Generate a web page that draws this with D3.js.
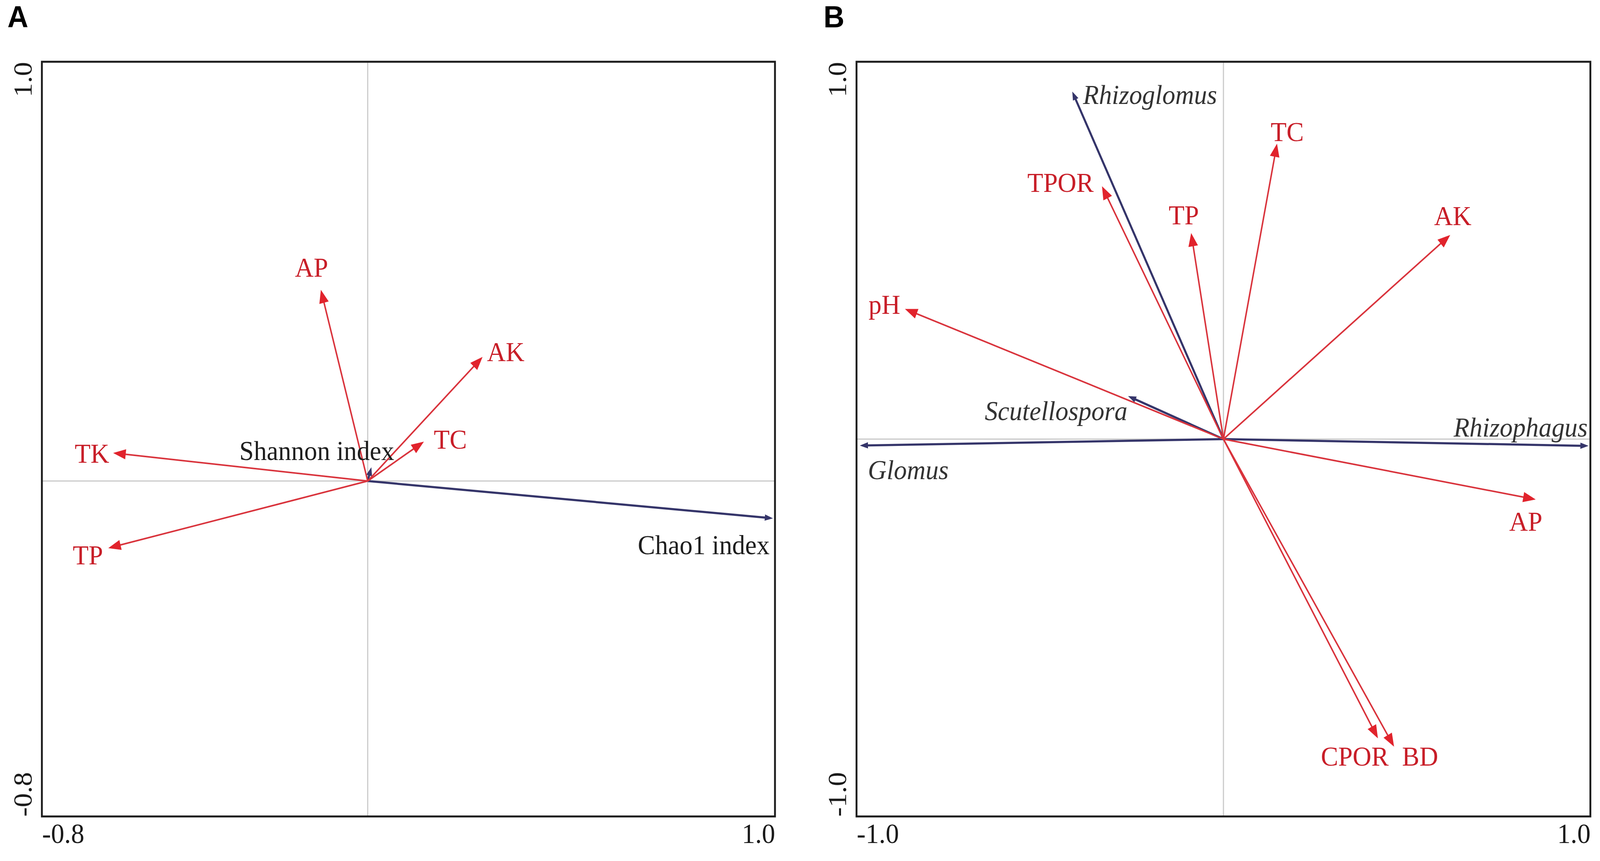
<!DOCTYPE html>
<html>
<head>
<meta charset="utf-8">
<script src="https://cdn.jsdelivr.net/npm/d3@7"></script>
<style>
  html, body { margin: 0; padding: 0; background: #fff; overflow: hidden; }
  svg { display: block; width: 100vw; height: 100vh; }
</style>
</head>
<body>
<svg id="chart" viewBox="0 0 4317 2203" preserveAspectRatio="none"></svg>
<script>
// ---- panel A : environmental variables (red) and diversity indices (navy)
var aEnvNames = ['AP', 'AK', 'TC', 'TK', 'TP'];
var aEnvX = [-0.115, 0.282, 0.138, -0.625, -0.637];
var aEnvY = [0.456, 0.296, 0.094, 0.067, -0.160];
var aEnvLabX = [-0.138, 0.339, 0.203, -0.677, -0.687];
var aEnvLabY = [0.510, 0.309, 0.100, 0.066, -0.176];

var aRespNames = ['Shannon index', 'Chao1 index'];
var aRespX = [0.009, 0.995];
var aRespY = [0.033, -0.089];
var aRespLabX = [-0.125, 0.825];
var aRespLabY = [0.073, -0.152];

var aTicksX = [-0.8, 1.0];
var aTicksY = [-0.8, 1.0];

// ---- panel B : soil properties (red) and AMF genera (navy, italic)
var bEnvNames = ['TC', 'TPOR', 'TP', 'AK', 'pH', 'AP', 'CPOR', 'BD'];
var bEnvX = [0.146, -0.331, -0.088, 0.618, -0.868, 0.851, 0.421, 0.465];
var bEnvY = [0.783, 0.670, 0.546, 0.541, 0.345, -0.160, -0.793, -0.815];
var bEnvLabX = [0.174, -0.444, -0.108, 0.625, -0.924, 0.824, 0.358, 0.536];
var bEnvLabY = [0.815, 0.680, 0.594, 0.592, 0.357, -0.218, -0.840, -0.840];

var bRespNames = ['Rhizoglomus', 'Scutellospora', 'Rhizophagus', 'Glomus'];
var bRespX = [-0.412, -0.260, 0.995, -0.991];
var bRespY = [0.921, 0.114, -0.018, -0.017];
var bRespLabX = [-0.200, -0.456, 0.810, -0.859];
var bRespLabY = [0.914, 0.076, 0.032, -0.081];

var bTicksX = [-1.0, 1.0];
var bTicksY = [-1.0, 1.0];

var RED_LINE = '#d9333c', RED_HEAD = '#e1232c', RED_TEXT = '#c81e28';
var NAVY = '#35356a';
var SERIF = '"Liberation Serif", "Times New Roman", serif';

var svg = d3.select('#chart');

function zip(names, xs, ys, lx, ly) {
	return names.map(function(n, i) {
		return {name: n, x: xs[i], y: ys[i], lx: lx[i], ly: ly[i]};
	});
}

function drawPanel(opt) {
	var g = svg.append('g').attr('transform', 'translate(' + opt.left + ',' + opt.top + ')');
	var w = opt.width, h = opt.height;

	var x = d3.scaleLinear().domain(opt.xDomain).range([0, w]);
	var y = d3.scaleLinear().domain(opt.yDomain).range([h, 0]);

	// zero lines
	g.append('line')
		.attr('x1', 0).attr('x2', w)
		.attr('y1', y(0)).attr('y2', y(0))
		.attr('stroke', '#c9c9c9').attr('stroke-width', 3);
	g.append('line')
		.attr('x1', x(0)).attr('x2', x(0))
		.attr('y1', 0).attr('y2', h)
		.attr('stroke', '#c9c9c9').attr('stroke-width', 3);

	function arrows(data, lineColor, headColor, lw, hl, hw) {
		var a = g.append('g');
		data.forEach(function(d) {
			var x0 = x(0), y0 = y(0), x1 = x(d.x), y1 = y(d.y);
			var ang = Math.atan2(y1 - y0, x1 - x0);
			var len = Math.sqrt((x1 - x0) * (x1 - x0) + (y1 - y0) * (y1 - y0));
			var cut = Math.min(hl * 0.6, len);
			a.append('line')
				.attr('x1', x0).attr('y1', y0)
				.attr('x2', x1 - cut * Math.cos(ang)).attr('y2', y1 - cut * Math.sin(ang))
				.attr('stroke', lineColor).attr('stroke-width', lw);
			var bx = x1 - hl * Math.cos(ang), by = y1 - hl * Math.sin(ang);
			var px = -Math.sin(ang) * hw, py = Math.cos(ang) * hw;
			a.append('path')
				.attr('d', 'M' + x1 + ',' + y1 + 'L' + (bx + px) + ',' + (by + py) + 'L' + (bx - px) + ',' + (by - py) + 'Z')
				.attr('fill', headColor);
		});
	}

	arrows(opt.resp, NAVY, NAVY, 5.5, 22, 8);
	arrows(opt.env, RED_LINE, RED_HEAD, 4, 34, 13);

	function labels(data, color, italic) {
		g.append('g').selectAll('text')
			.data(data)
			.join('text')
			.attr('x', function(d) { return x(d.lx); })
			.attr('y', function(d) { return y(d.ly); })
			.attr('dy', '0.35em')
			.attr('text-anchor', 'middle')
			.attr('font-family', SERIF)
			.attr('font-size', 70)
			.attr('font-style', italic ? 'italic' : 'normal')
			.attr('fill', color)
			.text(function(d) { return d.name; });
	}

	labels(opt.env, RED_TEXT, false);
	labels(opt.resp, opt.respColor, opt.italic);

	// box
	g.append('rect')
		.attr('width', w).attr('height', h)
		.attr('fill', 'none').attr('stroke', '#1c1c1c').attr('stroke-width', 5);

	// axes: only the two end values are labelled
	var fmt = function(d) { return d.toFixed(1); };
	var xAxis = g.append('g')
		.attr('transform', 'translate(0,' + h + ')')
		.call(d3.axisBottom(x).tickValues(opt.ticksX).tickSize(0).tickFormat(fmt));
	var yAxis = g.append('g')
		.call(d3.axisLeft(y).tickValues(opt.ticksY).tickSize(0).tickFormat(fmt));
	[xAxis, yAxis].forEach(function(ax) {
		ax.select('.domain').remove();
		ax.selectAll('text')
			.attr('font-family', SERIF)
			.attr('font-size', 72)
			.attr('fill', '#1a1a1a');
	});
	xAxis.selectAll('text')
		.attr('y', 68).attr('dy', 0)
		.attr('text-anchor', function(d, i) { return i === 0 ? 'start' : 'end'; });
	yAxis.selectAll('text')
		.attr('x', 0).attr('y', -28).attr('dy', 0)
		.attr('transform', 'rotate(-90)')
		.attr('text-anchor', function(d) { return d === opt.yDomain[1] ? 'end' : 'start'; });

	svg.append('text')
		.attr('x', opt.tagX).attr('y', 70)
		.attr('font-family', 'Arial, "Liberation Sans", sans-serif')
		.attr('font-weight', 'bold')
		.attr('font-size', 78)
		.attr('fill', '#000')
		.text(opt.tag);
}

drawPanel({
	tag: 'A', tagX: 20,
	left: 113, top: 158, width: 1978, height: 1931,
	xDomain: [-0.8, 1.0], yDomain: [-0.8, 1.0],
	ticksX: aTicksX, ticksY: aTicksY,
	env: zip(aEnvNames, aEnvX, aEnvY, aEnvLabX, aEnvLabY),
	resp: zip(aRespNames, aRespX, aRespY, aRespLabX, aRespLabY),
	respColor: '#1e1e1e', italic: false
});

drawPanel({
	tag: 'B', tagX: 2222,
	left: 2311, top: 158, width: 1980, height: 1931,
	xDomain: [-1.0, 1.0], yDomain: [-1.0, 1.0],
	ticksX: bTicksX, ticksY: bTicksY,
	env: zip(bEnvNames, bEnvX, bEnvY, bEnvLabX, bEnvLabY),
	resp: zip(bRespNames, bRespX, bRespY, bRespLabX, bRespLabY),
	respColor: '#333333', italic: true
});
</script>
</body>
</html>
